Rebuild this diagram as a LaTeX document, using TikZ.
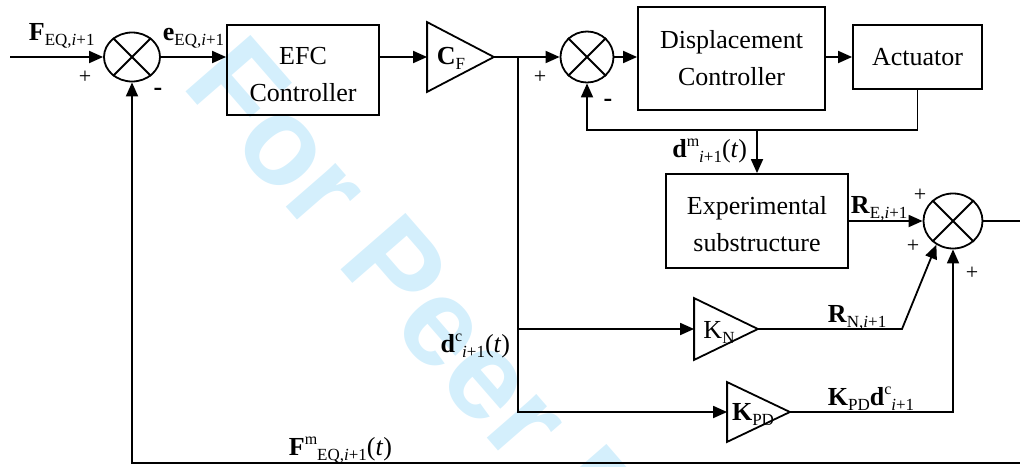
\documentclass[tikz,border=0pt]{standalone}
\usepackage{fontspec}
\setmainfont{Liberation Serif}
\newfontfamily\wmfont{Liberation Sans}
\usetikzlibrary{arrows.meta,shapes.geometric,calc}
\definecolor{wm}{RGB}{212,239,252}
\newcommand{\sbx}[1]{\raisebox{-0.2em}{\fontsize{17}{17}\selectfont #1}}
\newcommand{\spx}[1]{\raisebox{0.42em}{\fontsize{16}{16}\selectfont #1}}
\newcommand{\crossin}[1]{\draw (#1.45) -- (#1.225) (#1.135) -- (#1.315);}
\newcommand{\gaintri}[1]{\draw (#1.north west) -- (#1.east) -- (#1.south west) -- cycle;}
\begin{document}
\begin{tikzpicture}[x=1pt,y=-1pt,line width=1.8pt,
  >={Triangle[length=14pt,width=12pt]},
  box/.style={draw,inner sep=0},
  txt/.style={font=\fontsize{26}{37}\selectfont,inner sep=0},
  lab/.style={font=\fontsize{26}{30}\selectfont,inner sep=0},
  sign/.style={font=\fontsize{22}{22}\selectfont,inner sep=0},
  sumj/.style={draw,ellipse,inner sep=0},
  gain/.style={inner sep=0}]
% watermark
\begin{scope}
\clip (0,0) rectangle (1020,466);
\node[anchor=base west,rotate=-49,inner sep=0,text=wm,
  font=\wmfont\bfseries\fontsize{125}{125}\selectfont] (wmk) at (180,85) {For Peer Review};
\end{scope}
\useasboundingbox (0,0) rectangle (1020,466);

% blocks
\node[box,minimum width=152pt,minimum height=90pt] (efc) at (303,70) {};
\node[txt,align=center] at ($(efc.center)+(0,5)$) {EFC\\Controller};
\node[box,minimum width=187pt,minimum height=103pt] (disp) at (731.5,58.5) {};
\node[txt,align=center] at (disp.center) {Displacement\\Controller};
\node[box,minimum width=129pt,minimum height=64pt] (act) at (917.5,57) {};
\node[txt] at (act.center) {Actuator};
\node[box,minimum width=182pt,minimum height=94pt] (exp) at (757,221) {};
\node[txt,align=center] at ($(exp.center)+(0,3)$) {Experimental\\substructure};

% summing junctions
\node[sumj,minimum width=56pt,minimum height=49pt] (s1) at (132,57) {};
\crossin{s1}
\node[sumj,minimum width=53pt,minimum height=51pt] (s2) at (587,57) {};
\crossin{s2}
\node[sumj,minimum width=59pt,minimum height=55pt] (s3) at (953,221) {};
\crossin{s3}

% gains
\node[gain,minimum width=65pt,minimum height=68pt] (cf) at (460.5,57) {};
\gaintri{cf}
\node[lab,anchor=base] at (451,64) {\textbf{C}\sbx{F}};
\node[gain,minimum width=62pt,minimum height=60pt] (kn) at (726,329) {};
\gaintri{kn}
\node[lab,anchor=base] at (719,338) {K\sbx{N}};
\node[gain,minimum width=61pt,minimum height=58pt] (kpd) at (758.5,412) {};
\gaintri{kpd}
\node[lab,anchor=base] at (753,420) {\textbf{K}\sbx{PD}};

% coordinates
\coordinate (in) at (10,57);
\coordinate (j1) at (518,57);
\coordinate (j2) at (518,329);
\coordinate (dmj) at (757,130);
\coordinate (out) at (1020,221);
\coordinate (rnk) at (902,329);
\coordinate (fb) at (1020,463);

% connectors
\draw[->] (in) -- (s1.west);
\draw[->] (s1.east) -- (s1.east -| efc.west);
\draw[->] (efc.east |- cf.west) -- (cf.west);
\draw[->] (cf.east) -- (j1) -- (s2.west);
\draw[->] (j1) |- (kpd.west);
\draw[->] (j2) -- (kn.west);
\draw[->] (s2.east) -- (s2.east -| disp.west);
\draw[->] (disp.east |- act.west) -- (act.west);
\draw[->] (act.south) |- (dmj) -| (s2.south);
\draw[->] (dmj) -- (exp.north);
\draw[->] (exp.east) -- (s3.west);
\draw (s3.east) -- (out);
\draw[->] (kn.east) -- (rnk) -- (s3.235);
\draw[->] (kpd.east) -| (s3.south);
\draw[->] (fb) -| (s1.south);

% labels
\node[lab,anchor=base west] at (28,40) {\textbf{F}\sbx{EQ,\textit{i}+1}};
\node[lab,anchor=base west] at (162,40) {\textbf{e}\sbx{EQ,\textit{i}+1}};
\node[lab,anchor=base east] at (748,157) {\textbf{d}\spx{m}\sbx{\textit{i}+1}(\textit{t})};
\node[lab,anchor=base west] at (850,213) {\textbf{R}\sbx{E,\textit{i}+1}};
\node[lab,anchor=base west] at (827,322) {\textbf{R}\sbx{N,\textit{i}+1}};
\node[lab,anchor=base west] at (827,405) {\textbf{K}\sbx{PD}\textbf{d}\spx{c}\sbx{\textit{i}+1}};
\node[lab,anchor=base east] at (511,352) {\textbf{d}\spx{c}\sbx{\textit{i}+1}(\textit{t})};
\node[lab,anchor=base west] at (288,455) {\textbf{F}\spx{m}\sbx{EQ,\textit{i}+1}(\textit{t})};

% signs
\node[sign] at (85,77) {+};
\node[sign] at (540,77) {+};
\node[sign] at (920,195) {+};
\node[sign] at (913,246) {+};
\node[sign] at (972,273) {+};
\node[lab] at (158,92) {\textbf{-}};
\node[lab] at (608,103) {\textbf{-}};
\end{tikzpicture}
\end{document}
